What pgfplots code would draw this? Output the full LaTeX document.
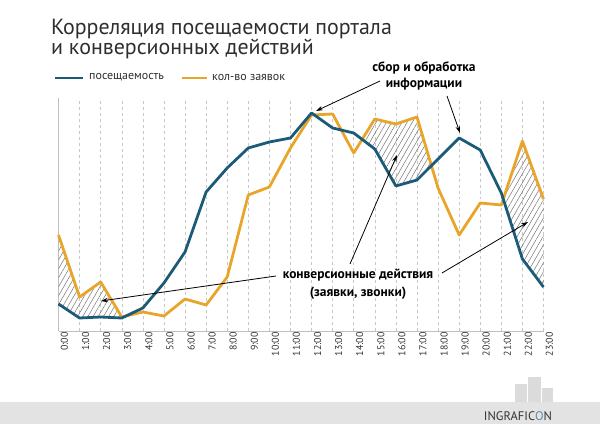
\documentclass[border=0pt]{standalone}
\usepackage{pgfplots}
\pgfplotsset{compat=1.18}
\usepgfplotslibrary{fillbetween}
\usetikzlibrary{patterns.meta,arrows.meta}
\usepackage{fontspec}
\setmainfont{PT Sans}
\definecolor{cblue}{HTML}{1C5B78}
\definecolor{corange}{HTML}{E9A52A}
\definecolor{ctext}{HTML}{2E2E2E}
\begin{document}
\begin{tikzpicture}
\begin{axis}[
  at={(58.5bp,93bp)}, anchor=south west,
  scale only axis, width=485bp, height=233bp,
  xmin=0, xmax=23, ymin=0, ymax=233,
  axis lines=left, axis line style={draw=black!25, line width=0.8pt, -},
  ytick=\empty,
  xtick={0,...,23},
  xticklabels={0:00,1:00,2:00,3:00,4:00,5:00,6:00,7:00,8:00,9:00,10:00,11:00,12:00,13:00,14:00,15:00,16:00,17:00,18:00,19:00,20:00,21:00,22:00,23:00},
  major tick length=0pt,
  xticklabel style={rotate=90, anchor=east, font=\fontsize{10}{10}\selectfont, text=black!80, inner sep=1pt, yshift=-6bp},
  xmajorgrids, grid style={draw=black!22, dashed, line width=0.5pt},
  clip=false,
]
\addplot[name path=B, draw=none, forget plot] coordinates {
(0,27)(1,13)(2,14)(3,13)(4,23)(5,48)(6,79)(7,139)(8,163)(9,183)(10,189)(11,193)
(12,218)(13,203)(14,198)(15,182)(16,145)(17,151)(18,172)(19,193)(20,181)(21,138)(22,72)(23,44)};
\addplot[name path=O, draw=none, forget plot] coordinates {
(0,96)(1,34)(2,49)(3,14)(4,19)(5,15)(6,32)(7,26)(8,54)(9,136)(10,144)(11,183)
(12,216)(13,217)(14,178)(15,212)(16,207)(17,214)(18,143)(19,96)(20,128)(21,126)(22,190)(23,132)};
\addplot[pattern={Lines[angle=60,distance=4.5pt,line width=0.5pt]}, pattern color=black!55, draw=none] fill between[of=O and B, soft clip={domain=0:3}];
\addplot[pattern={Lines[angle=60,distance=4.5pt,line width=0.5pt]}, pattern color=black!55, draw=none] fill between[of=O and B, soft clip={domain=14.4:17.685}];
\addplot[pattern={Lines[angle=60,distance=4.5pt,line width=0.5pt]}, pattern color=black!55, draw=none] fill between[of=O and B, soft clip={domain=21.092:23}];
\addplot[corange, line width=2.8pt, line join=round] coordinates {
(0,96)(1,34)(2,49)(3,14)(4,19)(5,15)(6,32)(7,26)(8,54)(9,136)(10,144)(11,183)
(12,216)(13,217)(14,178)(15,212)(16,207)(17,214)(18,143)(19,96)(20,128)(21,126)(22,190)(23,132)};
\addplot[cblue, line width=2.8pt, line join=round] coordinates {
(0,27)(1,13)(2,14)(3,13)(4,23)(5,48)(6,79)(7,139)(8,163)(9,183)(10,189)(11,193)
(12,218)(13,203)(14,198)(15,182)(16,145)(17,151)(18,172)(19,193)(20,181)(21,138)(22,72)(23,44)};
\end{axis}
\begin{scope}[x=1bp, y=-1bp, shift={(0bp,424bp)}]
% title
\node[anchor=base west, inner sep=0, text=ctext, font=\fontsize{22}{22}\selectfont] at (51,35) {Корреляция посещаемости портала};
\node[anchor=base west, inner sep=0, text=ctext, font=\fontsize{22}{22}\selectfont] at (51,55) {и конверсионных действий};
% legend
\draw[cblue, line width=3pt] (55,78) -- (83,78);
\node[anchor=west, inner sep=0, text=ctext, font=\fontsize{12}{12}\selectfont] at (89,77.5) {посещаемость};
\draw[corange, line width=3pt] (182,78) -- (207,78);
\node[anchor=west, inner sep=0, text=ctext, font=\fontsize{12}{12}\selectfont] at (212,77.5) {кол-во заявок};
% annotations
\node[align=center, inner sep=0, text=black, font=\bfseries\fontsize{13.5}{16.5}\selectfont] at (424,76) {сбор и обработка\\информации};
\draw[line width=0.8pt, -{Stealth[length=7pt,width=4.5pt]}] (380,81) -- (316,111);
\draw[line width=0.8pt, -{Stealth[length=7pt,width=4.5pt]}] (447,96) -- (460,133);
\node[align=center, inner sep=0, text=black, font=\bfseries\fontsize{13.5}{18}\selectfont] at (358,284) {конверсионные действия\\(заявки, звонки)};
\draw[line width=0.8pt, -{Stealth[length=7pt,width=4.5pt]}] (276,276) -- (101,301);
\draw[line width=0.8pt, -{Stealth[length=7pt,width=4.5pt]}] (350,264) -- (397,155);
\draw[line width=0.8pt, -{Stealth[length=7pt,width=4.5pt]}] (442,273) -- (528,222);
% footer band and logo
\fill[black!11] (0,402) rectangle (600,424);
\fill[black!14] (515,384) rectangle (527,402);
\fill[black!14] (528,377) rectangle (541,402);
\fill[black!14] (542,388) rectangle (553,402);
\node[anchor=center, inner sep=0, text=black!80, font=\fontsize{12.5}{13}\selectfont] at (518,416) {INGRAFIC\textcolor{cblue!70}{O}N};
\end{scope}
\pgfresetboundingbox
\path[use as bounding box] (0,0) rectangle (600bp,424bp);
\end{tikzpicture}
\end{document}
